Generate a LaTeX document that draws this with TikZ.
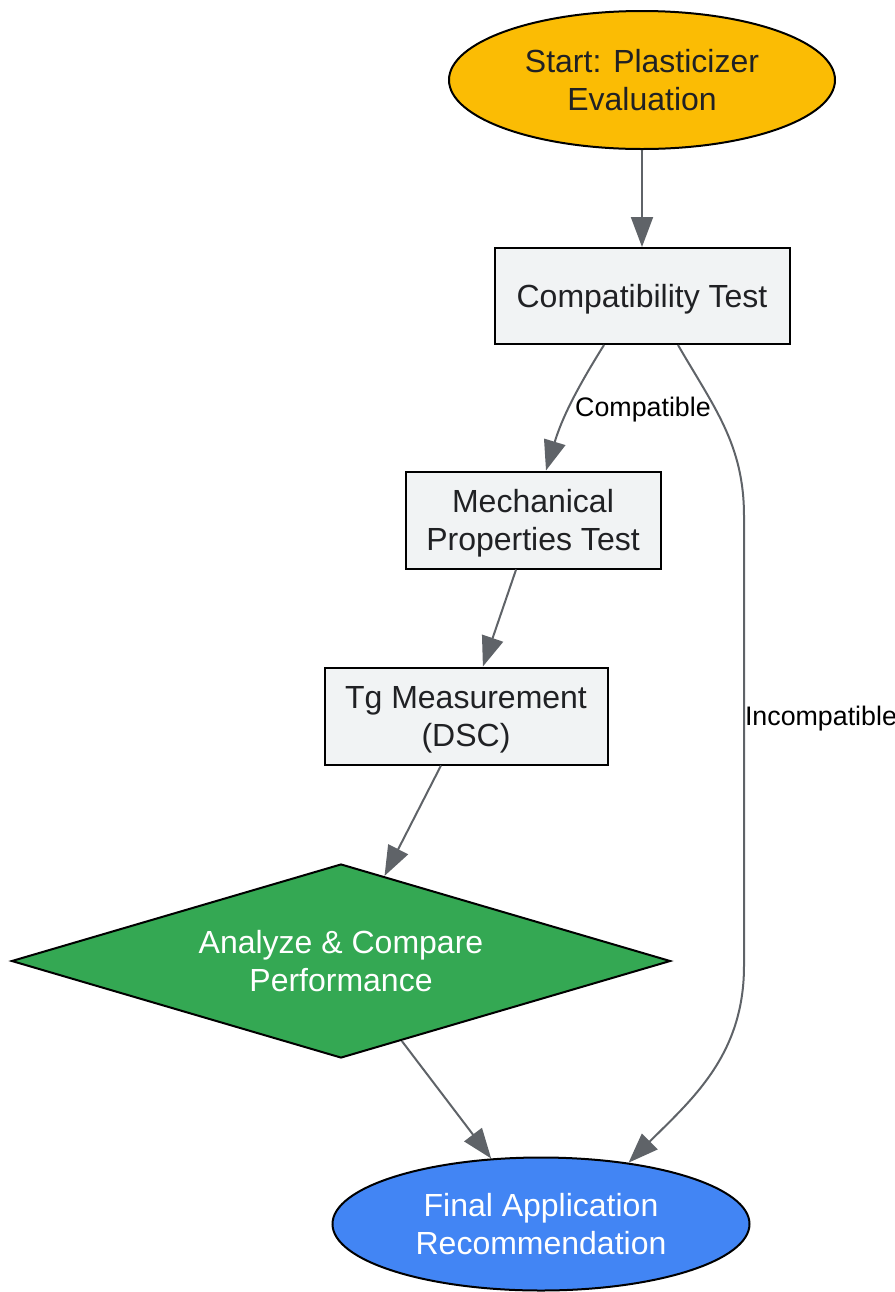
\documentclass[tikz,border=0pt]{standalone}
\usepackage{fontspec}
\setmainfont{Liberation Sans}
\usepackage{xcolor}
\usetikzlibrary{shapes.geometric,arrows.meta,positioning}
\definecolor{startyellow}{HTML}{FBBC04}
\definecolor{stepgray}{HTML}{F1F3F4}
\definecolor{decgreen}{HTML}{34A853}
\definecolor{endblue}{HTML}{4285F4}
\definecolor{linegray}{HTML}{5F6368}
\definecolor{inkdark}{HTML}{202124}
\tikzstyle{terminal} = [ellipse, draw=black, line width=1pt, inner sep=0pt, align=center, font=\fontsize{16}{19}\selectfont]
\tikzstyle{stepbox} = [rectangle, draw=black, line width=1pt, fill=stepgray, text=inkdark, inner sep=0pt, text depth=0pt, align=center, font=\fontsize{16}{19}\selectfont]
\tikzstyle{decision} = [diamond, draw=black, line width=1pt, fill=decgreen, text=white, aspect=3.4, inner sep=0pt, align=center, font=\fontsize{16}{19}\selectfont]
\tikzstyle{edgelabel} = [text=black, inner sep=0pt, font=\fontsize{13.4}{15}\selectfont]

\begin{document}
\begin{tikzpicture}[->,>={Triangle[length=15pt,width=11pt]},line width=1pt,every edge/.style={draw=linegray}]
  \useasboundingbox (0,0) rectangle (447.5pt,-646pt);

  \node[terminal, fill=startyellow, text=inkdark, minimum width=193pt, minimum height=69pt] (start) at (321pt,-40pt) {Start: Plasticizer\\Evaluation};
  \node[stepbox, minimum width=147.5pt, minimum height=48pt] (compat) [node distance=108pt, below of=start] {Compatibility Test};
  \node[stepbox, minimum width=127.5pt, minimum height=48.5pt] (mech) [node distance=112pt, below of=compat, xshift=-54.5pt] {Mechanical\\Properties Test};
  \node[stepbox, minimum width=141.5pt, minimum height=48.5pt] (tg) [node distance=98pt, below of=mech, xshift=-33.5pt] {Tg Measurement\\(DSC)};
  \node[decision, minimum width=329.5pt, minimum height=97pt] (analyze) [node distance=122.5pt, below of=tg, xshift=-62.5pt] {Analyze \& Compare\\Performance};
  \node[terminal, fill=endblue, text=white, minimum width=208.5pt, minimum height=66.5pt] (final) [node distance=131.5pt, below of=analyze, xshift=100pt] {Final Application\\Recommendation};

  \path (start) edge (compat);
  \path ([xshift=-19pt]compat.south) edge[out=-122,in=73] node[edgelabel, pos=0.5, right, xshift=2pt, yshift=-2pt] (lblcomp) {Compatible} ([xshift=6.5pt]mech.north);
  \path (mech) edge (tg);
  \path ([xshift=-12.5pt]tg.south) edge (analyze);
  \path (analyze) edge (final);
  \draw[linegray] ([xshift=18pt]compat.south) to[out=-60,in=90] ++(33pt,-85.5pt) coordinate (bendtop)
    -- node[edgelabel, pos=0.45, right] (lblincomp) {Incompatible} ++(0,-225pt) coordinate (bendbot)
    to[out=-90,in=45] (final.35);
\end{tikzpicture}
\end{document}
